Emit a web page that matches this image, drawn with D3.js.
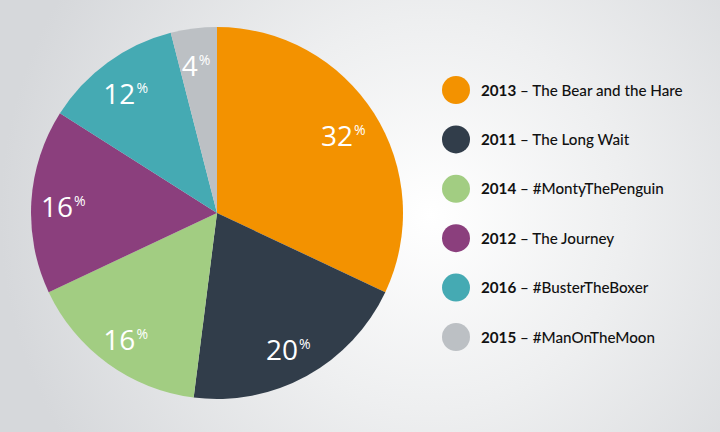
<!DOCTYPE html>
<html><head><meta charset="utf-8">
<script src="https://cdn.jsdelivr.net/npm/d3@7/dist/d3.min.js"></script>
<style>html,body{margin:0;padding:0;}svg{display:block;}</style>
</head><body>
<svg id="c" width="720" height="432"></svg>
<script>
const years = ["2013","2011","2014","2012","2016","2015"];
const titles = ["The Bear and the Hare","The Long Wait","#MontyThePenguin","The Journey","#BusterTheBoxer","#ManOnTheMoon"];
const values = [32,20,16,16,12,4];
const colors = ["#f39200","#313d4a","#a2cd82","#8b3f7d","#45aab3","#bcc0c4"];

const svg = d3.select("#c");
const defs = svg.append("defs");
const g = defs.append("radialGradient").attr("id","bg").attr("gradientUnits","userSpaceOnUse")
  .attr("cx",430).attr("cy",215).attr("r",430);
g.append("stop").attr("offset","0").attr("stop-color","#ffffff");
g.append("stop").attr("offset","0.45").attr("stop-color","#eeeff0");
g.append("stop").attr("offset","1").attr("stop-color","#d6d8db");
svg.append("rect").attr("width",720).attr("height",432).attr("fill","url(#bg)");

const cx = 217, cy = 213, R = 186;
const pie = d3.pie().sort(null).value(d=>d);
const arcs = pie(values);
const arc = d3.arc().innerRadius(0).outerRadius(R);
const labelArc = d3.arc().innerRadius(152).outerRadius(152);
const pg = svg.append("g").attr("transform",`translate(${cx},${cy})`);
pg.selectAll("path").data(arcs).join("path").attr("d",arc).attr("fill",(d,i)=>colors[i]);

const lbl = pg.selectAll("text.l").data(arcs).join("text").attr("class","l")
  .attr("transform",d=>{const c=labelArc.centroid(d);return `translate(${c[0]-2},${c[1]+14})`;})
  .attr("text-anchor","middle").attr("fill","#fff")
  .style("font-family","'Open Sans', sans-serif").style("font-weight",400);
lbl.append("tspan").style("font-size","28px").text(d=>d.data);
lbl.append("tspan").style("font-size","14px").attr("dy","-11").attr("dx","1").text("%");

const leg = svg.append("g");
const ly = d3.scalePoint().domain(d3.range(years.length)).range([90,337]);
const items = leg.selectAll("g").data(years).join("g").attr("transform",(d,i)=>`translate(0,${ly(i)})`);
items.append("circle").attr("cx",456).attr("cy",0).attr("r",14).attr("fill",(d,i)=>colors[i]);
const t = items.append("text").attr("x",481).attr("y",5.5).attr("fill","#111")
  .style("font-family","Lato, sans-serif").style("font-size","15.2px");
t.append("tspan").style("font-weight",700).text(d=>d);
t.append("tspan").style("font-weight",500).text((d,i)=>" – "+titles[i]);
</script>
</body></html>
